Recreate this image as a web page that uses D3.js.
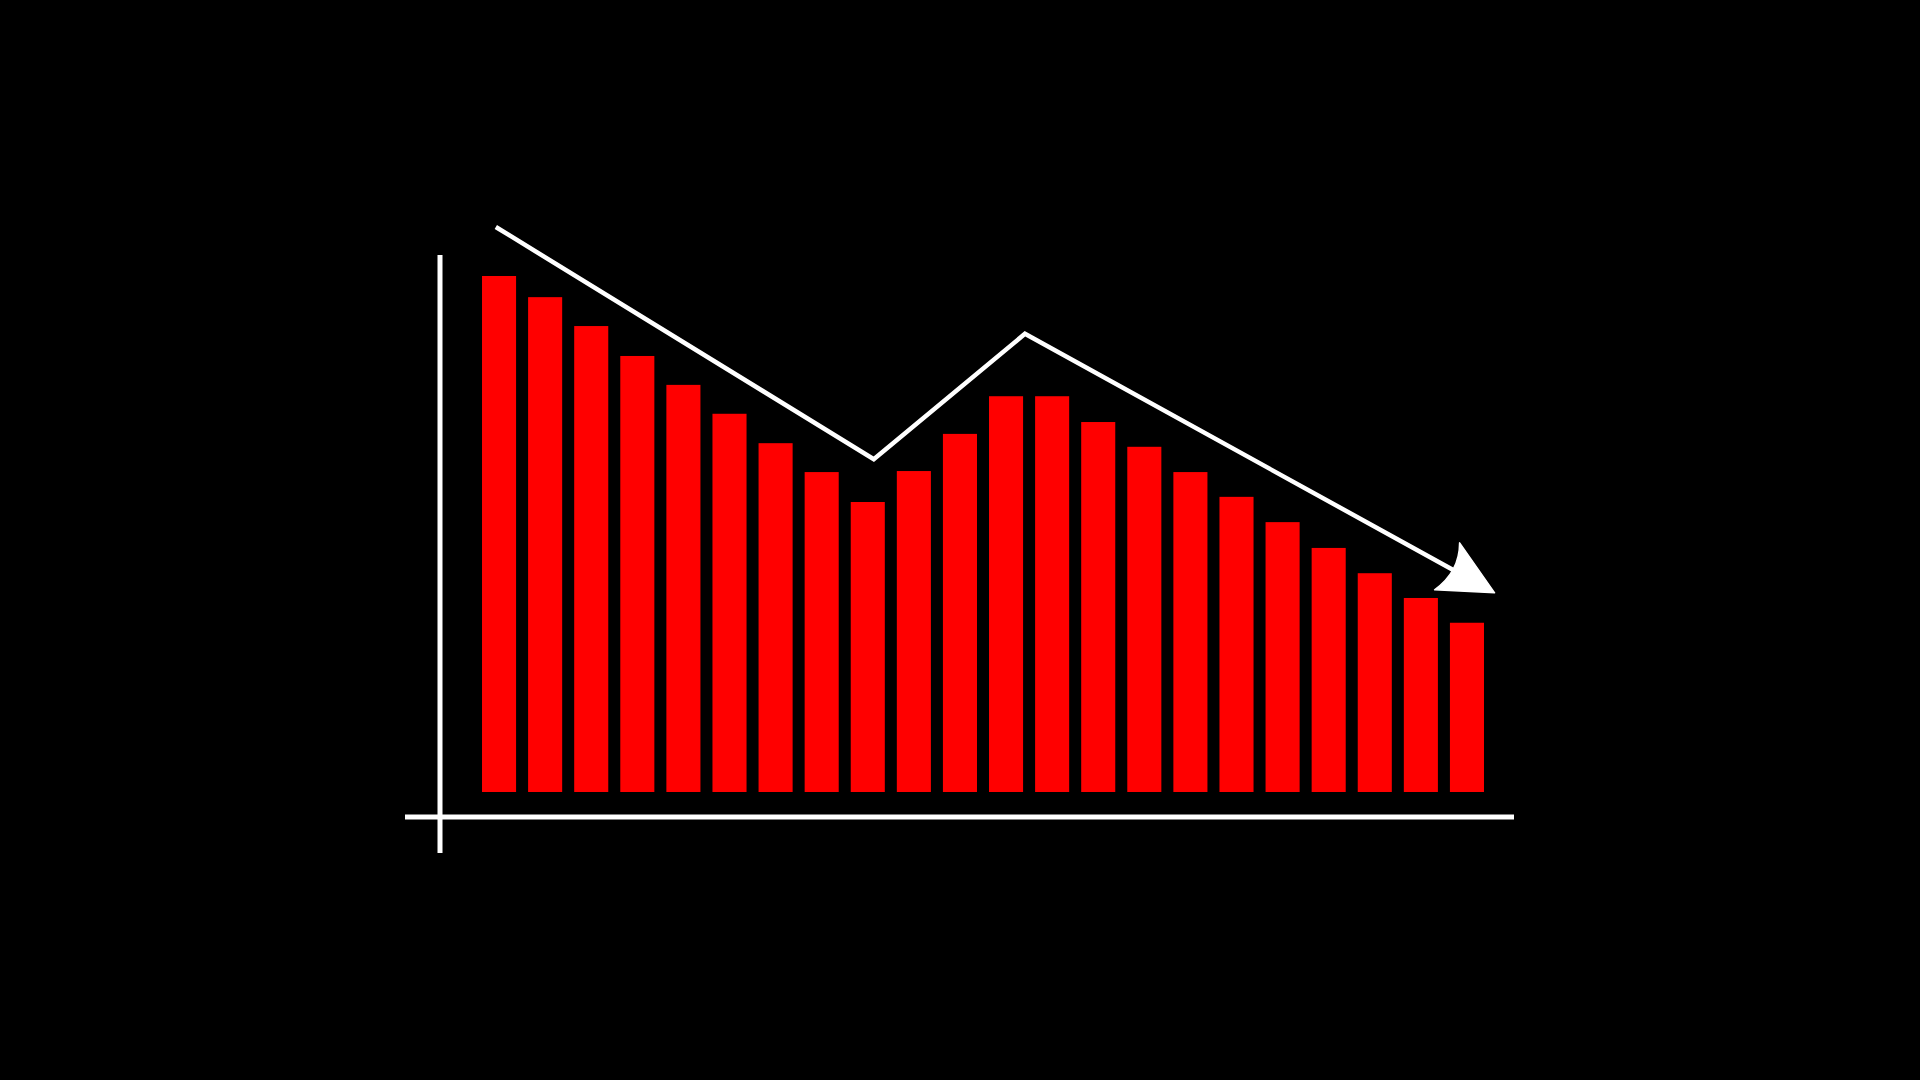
<!DOCTYPE html>
<html>
<head>
<meta charset="utf-8">
<title>Falling bars</title>
<script src="https://cdn.jsdelivr.net/npm/d3@7"></script>
<style>
    html, body { margin: 0; padding: 0; background: #000; overflow: hidden; }
    svg { display: block; }
</style>
</head>
<body>
<div id="viz"></div>
<script>
// bar values (first bar = 100)
var periods = d3.range(1, 23).map(function(i) { return "P" + i; });
var values = [100, 95.9, 90.3, 84.5, 78.9, 73.3, 67.6, 62.0, 56.2, 62.2, 69.4,
              76.7, 76.7, 71.7, 66.9, 62.0, 57.2, 52.3, 47.3, 42.4, 37.6, 32.8];

// trend arrow drawn over the bars: x in bar index units, y in value units
var trend_x = [-0.07, 8.13, 11.41, 21.6];
var trend_y = [109.5, 64.5, 88.8, 38.6];

var width = 1920,
    height = 1080;

var svg = d3.select("#viz").append("svg")
    .attr("width", width)
    .attr("height", height)
    .style("background", "#000");

var x = d3.scaleBand()
    .domain(periods)
    .range([476, 1490])
    .paddingInner(12 / 46)
    .paddingOuter(6 / 46);

var y = d3.scaleLinear()
    .domain([0, 100])
    .range([792, 276]);

// continuous x for the trend line, lined up on bar centres
var x_idx = d3.scaleLinear()
    .domain([0, periods.length - 1])
    .range([x(periods[0]) + x.bandwidth() / 2,
            x(periods[periods.length - 1]) + x.bandwidth() / 2]);

// bars
svg.append("g")
    .attr("class", "bars")
    .selectAll("rect")
    .data(values)
    .enter().append("rect")
    .attr("x", function(d, i) { return x(periods[i]); })
    .attr("y", function(d) { return y(d); })
    .attr("width", x.bandwidth())
    .attr("height", function(d) { return y(0) - y(d); })
    .attr("fill", "#ff0000");

// axes (plain crossed lines, no ticks)
var axis_y = 817,
    axis_x = 440;

svg.append("line")
    .attr("x1", 405).attr("x2", 1514)
    .attr("y1", axis_y).attr("y2", axis_y)
    .attr("stroke", "#fff")
    .attr("stroke-width", 5);

svg.append("line")
    .attr("x1", axis_x).attr("x2", axis_x)
    .attr("y1", 255).attr("y2", 853)
    .attr("stroke", "#fff")
    .attr("stroke-width", 5);

// trend line, stopped short of the tip so the head covers its end
var pts = trend_x.map(function(d, i) { return [x_idx(d), y(trend_y[i])]; });
var tip = pts[pts.length - 1],
    prev = pts[pts.length - 2];
var seg_len = Math.hypot(tip[0] - prev[0], tip[1] - prev[1]);
var back = 25 / seg_len;
var line_pts = pts.slice(0, -1).concat([[tip[0] - (tip[0] - prev[0]) * back,
                                         tip[1] - (tip[1] - prev[1]) * back]]);

svg.append("path")
    .attr("d", d3.line()(line_pts))
    .attr("fill", "none")
    .attr("stroke", "#fff")
    .attr("stroke-width", 4.5)
    .attr("stroke-linejoin", "miter");

// arrow head with a swept back, placed at the last point
var head = d3.path();
head.moveTo(0, 0);
head.lineTo(-35, -50);
head.quadraticCurveTo(-35, -21, -60, -3);
head.closePath();

svg.append("path")
    .attr("d", head.toString())
    .attr("transform", "translate(" + tip[0] + "," + tip[1] + ")")
    .attr("fill", "#fff")
    .attr("stroke", "#fff")
    .attr("stroke-width", 1.5)
    .attr("stroke-linejoin", "round");
</script>
</body>
</html>
